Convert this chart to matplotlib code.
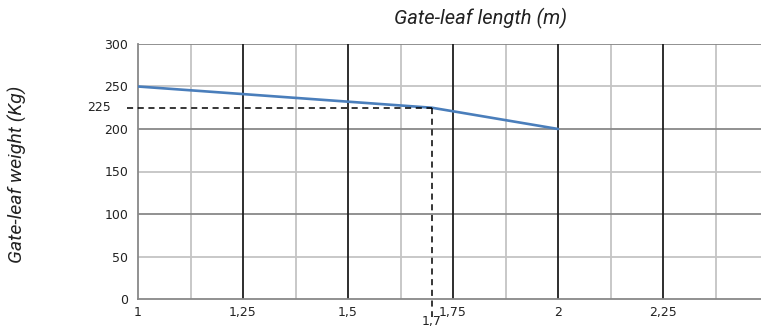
import matplotlib.pyplot as plt
import numpy as np

# data
length_m = [1.0, 1.7, 2.0]
weight_kg = [250, 225, 200]

x_ticks = [1, 1.25, 1.5, 1.75, 2, 2.25]
x_tick_labels = ["1", "1,25", "1,5", "1,75", "2", "2,25"]
y_ticks = [0, 50, 100, 150, 200, 250, 300]
y_tick_labels = ["0", "50", "100", "150", "200", "250", "300"]

mark_x = 1.7
mark_y = 225
mark_x_label = "1,7"
mark_y_label = "225"

title_font = ["Roboto", "DejaVu Sans"]

fig = plt.figure(figsize=(7.61, 3.33), dpi=100)
ax = fig.add_axes([138 / 761, 34 / 333, 623 / 761, 255 / 333])

ax.set_xlim(1, 2.483)
ax.set_ylim(0, 300)

# grid: minor light grey, majors darker / black
for v in np.arange(1.125, 2.48, 0.25):
    ax.axvline(v, color="#c4c4c4", lw=1.3, zorder=0)
for v in x_ticks[1:]:
    ax.axvline(v, color="#1e1e1e", lw=1.3, zorder=1)
for v in [50, 150, 250]:
    ax.axhline(v, color="#c4c4c4", lw=1.3, zorder=0)
for v in [100, 200, 300]:
    ax.axhline(v, color="#888888", lw=1.3, zorder=0)

for s in ["top", "right"]:
    ax.spines[s].set_visible(False)
for s in ["left", "bottom"]:
    ax.spines[s].set_color("#888888")
    ax.spines[s].set_linewidth(1.3)

ax.plot(length_m, weight_kg, color="#4a7ebb", lw=1.9, zorder=3, solid_capstyle="round")

# dashed guide lines for the marked point
ax.plot([0.974, mark_x], [mark_y, mark_y], color="black", lw=1.1, ls=(0, (4, 3)),
        clip_on=False, zorder=4)
ax.plot([mark_x, mark_x], [mark_y, -21], color="black", lw=1.1, ls=(0, (4, 3)),
        clip_on=False, zorder=4)

ax.set_xticks(x_ticks)
ax.set_xticklabels(x_tick_labels)
ax.set_yticks(y_ticks)
ax.set_yticklabels(y_tick_labels)
ax.tick_params(length=0, labelsize=9, colors="#222222")
ax.tick_params(axis="x", pad=5)
ax.tick_params(axis="y", pad=7)
for lab in ax.get_xticklabels() + ax.get_yticklabels():
    lab.set_family("DejaVu Sans")

ax.text(0.935, mark_y, mark_y_label, ha="right", va="center", fontsize=9,
        color="#222222", family="DejaVu Sans", clip_on=False)
ax.text(mark_x, -27, mark_x_label, ha="center", va="center", fontsize=9,
        color="#222222", family="DejaVu Sans", clip_on=False)

fig.text(481 / 761, 1 - 18 / 333, "Gate-leaf length (m)", ha="center", va="center",
         fontsize=14.5, style="italic", family=title_font, color="#222222")
fig.text(17 / 761, 1 - 174 / 333, "Gate-leaf weight (Kg)", ha="center", va="center",
         rotation=90, fontsize=14, style="italic", family=title_font, color="#222222")

fig.savefig("out.png", dpi=100)
